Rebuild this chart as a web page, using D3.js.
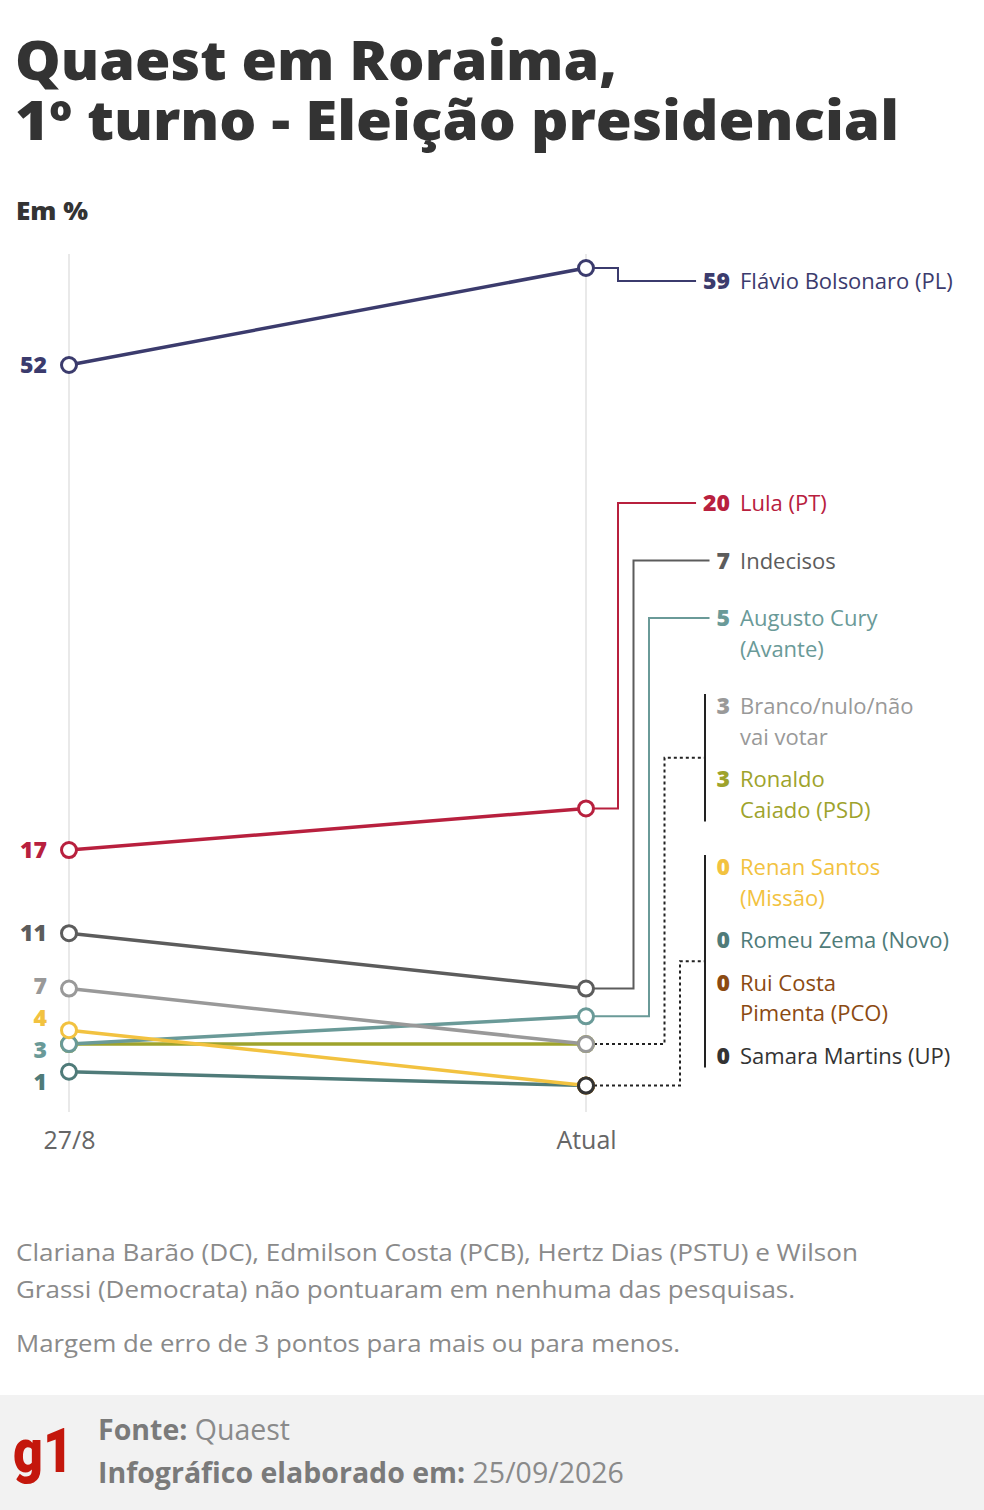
<!DOCTYPE html>
<html>
<head>
<meta charset="utf-8">
<script src="https://cdn.jsdelivr.net/npm/d3@7"></script>
<style>
  body { margin: 0; background: #fff; }
  svg { display: block; font-family: "Open Sans", "Noto Sans", sans-serif; }
</style>
</head>
<body>
<svg id="chart" width="984" height="1510"></svg>
<script>
// poll rounds
var periods = ["27/8", "Atual"];

// candidates, ordered as in the right-hand labels
var candidates = ["Flávio Bolsonaro (PL)", "Lula (PT)", "Indecisos", "Augusto Cury (Avante)",
    "Branco/nulo/não vai votar", "Ronaldo Caiado (PSD)", "Renan Santos (Missão)",
    "Romeu Zema (Novo)", "Rui Costa Pimenta (PCO)", "Samara Martins (UP)"];
var labelLines = [["Flávio Bolsonaro (PL)"], ["Lula (PT)"], ["Indecisos"], ["Augusto Cury", "(Avante)"],
    ["Branco/nulo/não", "vai votar"], ["Ronaldo", "Caiado (PSD)"], ["Renan Santos", "(Missão)"],
    ["Romeu Zema (Novo)"], ["Rui Costa", "Pimenta (PCO)"], ["Samara Martins (UP)"]];
var valuesFirst = [52, 17, 11, 3, 7, 3, 4, 1, null, null];
var valuesAtual = [59, 20, 7, 5, 3, 3, 0, 0, 0, 0];
var seriesColors = ["#3b3b6d", "#b8203e", "#5c5c5c", "#6a9a98", "#999999", "#9ea32c",
    "#f2c240", "#4f7b79", "#8b4a12", "#333333"];
// drawing order (later ones end on top)
var drawOrder = [5, 3, 4, 7, 6, 2, 1, 0, 8, 9];

var titleLines = ["Quaest em Roraima,", "1º turno - Eleição presidencial"];
var notes = ["Clariana Barão (DC), Edmilson Costa (PCB), Hertz Dias (PSTU) e Wilson",
    "Grassi (Democrata) não pontuaram em nenhuma das pesquisas.",
    "Margem de erro de 3 pontos para mais ou para menos."];

var svg = d3.select("#chart");
var textColor = "#333";

// title (one text block, two lines)
svg.append("text")
    .attr("font-size", 54).attr("font-weight", 800).attr("fill", textColor)
    .selectAll("tspan").data(titleLines).join("tspan")
    .attr("x", 15).attr("y", (d, i) => 80 + i * 60)
    .attr("textLength", (d, i) => [602, 884][i]).attr("lengthAdjust", "spacingAndGlyphs")
    .text(d => d);
svg.append("text").attr("x", 16).attr("y", 220)
    .attr("font-size", 25).attr("font-weight", 800).attr("fill", textColor)
    .attr("textLength", 72).attr("lengthAdjust", "spacingAndGlyphs")
    .text("Em %");

var x = d3.scalePoint().domain(periods).range([69, 586]);
var y = d3.scaleLinear().domain([0, 59]).range([1085.6, 268]);

// vertical guides
svg.append("g").selectAll("line").data(periods).join("line")
    .attr("x1", d => x(d)).attr("x2", d => x(d))
    .attr("y1", 254).attr("y2", 1112)
    .attr("stroke", "#e2e2e2").attr("stroke-width", 1.5);

// x axis labels
var xAxis = svg.append("g")
    .attr("transform", "translate(0,1128)")
    .call(d3.axisBottom(x).tickSize(0).tickPadding(0));
xAxis.select(".domain").remove();
xAxis.selectAll("text")
    .attr("font-family", "'Open Sans', 'Noto Sans', sans-serif")
    .attr("font-size", 25).attr("fill", "#666").attr("dy", "0.85em");

var series = candidates.map(function(name, i) {
    return {name: name, i: i, first: valuesFirst[i], atual: valuesAtual[i], color: seriesColors[i]};
});
var ordered = drawOrder.map(i => series[i]);

// lines
svg.append("g").selectAll("line").data(ordered.filter(d => d.first != null)).join("line")
    .attr("x1", x(periods[0])).attr("y1", d => y(d.first))
    .attr("x2", x(periods[1])).attr("y2", d => y(d.atual))
    .attr("stroke", d => d.color).attr("stroke-width", 3.5);

// right side connectors + labels
var numX = 730, nameX = 740, lineH = 30.5, bracketX = 705;
var groupKey = d => d.atual <= 3 ? "g" + d.atual : "s" + d.i;
var labelY = new Array(series.length);
for (var k = series.length - 1; k >= 0; k--) {
    var s = series[k];
    if (k == series.length - 1) {
        labelY[k] = y(0) - 30;
    } else {
        var gap = groupKey(s) == groupKey(series[k + 1]) ? 12 : 27;
        labelY[k] = Math.min(y(s.atual) + 13, labelY[k + 1] - (labelLines[k].length * lineH + gap));
    }
}

var labels = svg.append("g");
var numWidths = [];
series.forEach(function(s, k) {
    var t = labels.append("text").attr("x", numX).attr("y", labelY[k]).attr("dy", "0.36em")
        .attr("text-anchor", "end").attr("font-size", 23).attr("font-weight", 800)
        .attr("fill", s.color).text(s.atual);
    numWidths[k] = t.node().getComputedTextLength();
    labels.append("text").attr("x", nameX).attr("y", labelY[k])
        .attr("font-size", 22).attr("fill", s.color)
        .selectAll("tspan").data(labelLines[k]).join("tspan")
        .attr("x", nameX).attr("y", (d, j) => labelY[k] + j * lineH).attr("dy", "0.36em")
        .text(d => d);
});

var groups = d3.groups(series, groupKey);
var connectors = svg.append("g").attr("fill", "none");
groups.forEach(function(g, gi) {
    var members = g[1];
    var first = members[0], last = members[members.length - 1];
    var cy = y(first.atual);
    var elbowX = 618 + 15.5 * Math.max(0, gi - 1);
    var x0 = x(periods[1]) + 8;
    if (members.length == 1) {
        var ly = labelY[first.i];
        connectors.append("path")
            .attr("d", d3.line()([[x0, cy], [elbowX, cy], [elbowX, ly], [numX - numWidths[first.i] - 7, ly]]))
            .attr("stroke", first.color).attr("stroke-width", 2);
    } else {
        var top = labelY[first.i] - 12;
        var bottom = labelY[last.i] + (labelLines[last.i].length - 1) * lineH + 12;
        var mid = (top + bottom) / 2;
        connectors.append("line")
            .attr("x1", bracketX).attr("x2", bracketX).attr("y1", top).attr("y2", bottom)
            .attr("stroke", "#222").attr("stroke-width", 2);
        connectors.append("path")
            .attr("d", d3.line()([[x0, cy], [elbowX, cy], [elbowX, mid], [bracketX, mid]]))
            .attr("stroke", "#222").attr("stroke-width", 2).attr("stroke-dasharray", "3,3");
    }
});

// circles
var circles = svg.append("g");
ordered.forEach(function(s) {
    [s.first, s.atual].forEach(function(v, j) {
        if (v == null) return;
        circles.append("circle")
            .attr("cx", x(periods[j])).attr("cy", y(v)).attr("r", 7.5)
            .attr("fill", "#fff").attr("stroke", s.color).attr("stroke-width", 3);
    });
});

// left value labels: one per distinct value, colour of the circle on top
var leftMap = new Map();
ordered.forEach(function(s) { if (s.first != null) leftMap.set(s.first, s.color); });
var leftLabels = Array.from(leftMap, ([v, c]) => ({v: v, c: c, y: y(v)}))
    .sort((a, b) => a.y - b.y);
for (var it = 0; it < 60; it++) {
    for (var j = 1; j < leftLabels.length; j++) {
        var d = leftLabels[j].y - leftLabels[j - 1].y;
        if (d < 32) {
            var push = (32 - d) / 2;
            leftLabels[j].y += push;
            leftLabels[j - 1].y -= push;
        }
    }
}
svg.append("g").selectAll("text").data(leftLabels).join("text")
    .attr("x", 47).attr("y", d => d.y).attr("dy", "0.36em")
    .attr("text-anchor", "end").attr("font-size", 23).attr("font-weight", 800)
    .attr("fill", d => d.c).text(d => d.v);

// notes
svg.append("g").selectAll("text").data(notes).join("text")
    .attr("x", 16).attr("y", (d, i) => [1261, 1298, 1352][i])
    .attr("font-size", 23).attr("fill", "#8a8a8a")
    .attr("textLength", (d, i) => [842, 779, 664][i]).attr("lengthAdjust", "spacingAndGlyphs")
    .text(d => d);

// footer
svg.append("rect").attr("x", 0).attr("y", 1395).attr("width", 984).attr("height", 115)
    .attr("fill", "#f2f2f2");
svg.append("text").attr("x", 13).attr("y", 1472)
    .attr("font-family", "Roboto, 'Open Sans', sans-serif")
    .attr("font-size", 62).attr("font-weight", 900).attr("fill", "#c4170c")
    .attr("textLength", 60).attr("lengthAdjust", "spacingAndGlyphs").text("g1");
var f1 = svg.append("text").attr("x", 98).attr("y", 1440).attr("font-size", 28.5).attr("fill", "#8a8a8a");
f1.append("tspan").attr("font-weight", 700).attr("fill", "#7a7a7a").text("Fonte: ");
f1.append("tspan").text("Quaest");
var f2 = svg.append("text").attr("x", 98).attr("y", 1483).attr("font-size", 28.5).attr("fill", "#8a8a8a");
f2.append("tspan").attr("font-weight", 700).attr("fill", "#7a7a7a").text("Infográfico elaborado em: ");
f2.append("tspan").text("25/09/2026");
</script>
</body>
</html>
